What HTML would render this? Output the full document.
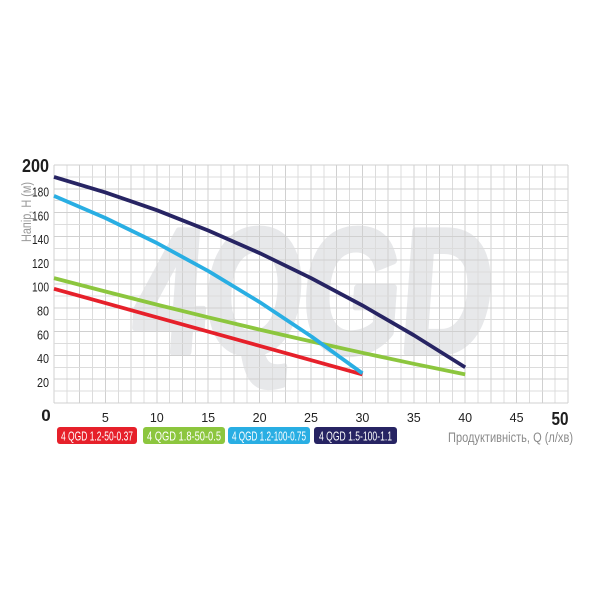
<!DOCTYPE html>
<html>
<head>
<meta charset="utf-8">
<style>
  html,body{margin:0;padding:0;background:#fff;}
  svg{display:block;}
  text{font-family:"Liberation Sans","DejaVu Sans",sans-serif;}
</style>
</head>
<body>
<svg width="600" height="600" viewBox="0 0 600 600" xmlns="http://www.w3.org/2000/svg">
  <rect width="600" height="600" fill="#fff"/>

  <!-- watermark -->
  <g transform="translate(131,352) skewX(-4)">
    <text x="0" y="0" font-size="176" font-weight="bold" fill="#e7e8ea" stroke="#e7e8ea" stroke-width="7" stroke-linejoin="round" textLength="358" lengthAdjust="spacingAndGlyphs">4QGD</text>
  </g>

  <!-- grid -->
  <g id="grid" stroke="#dcdcdc" stroke-width="1" shape-rendering="crispEdges"></g>

  <!-- curves -->
  <g fill="none" stroke-width="3.8" stroke-linejoin="round">
    <polyline stroke="#e6202a" points="54,288.8 362.4,374.4"/>
    <polyline stroke="#8cc63e" points="54,278.1 105.4,291.5 156.8,304.6 208.2,317.3 259.6,329.6 311,341.4 362.4,352.8 413.8,363.8 465.2,374.4"/>
    <polyline stroke="#29aee3" points="54,195.9 105.4,218.0 156.8,243.0 208.2,271.0 259.6,302.1 311,336.2 362.4,373.3"/>
    <polyline stroke="#272463" points="54,176.9 105.4,192.4 156.8,210.2 208.2,230.5 259.6,253.1 311,278.1 362.4,305.4 413.8,335.2 465.2,367.3"/>
  </g>

  <!-- y axis labels -->
  <text x="49" y="172" font-size="18" font-weight="bold" fill="#1e1e1e" text-anchor="end" textLength="27" lengthAdjust="spacingAndGlyphs">200</text>
  <g font-size="12.5" fill="#222" text-anchor="end">
    <text x="49" y="196.5" textLength="17" lengthAdjust="spacingAndGlyphs">180</text>
    <text x="49" y="220.3" textLength="17" lengthAdjust="spacingAndGlyphs">160</text>
    <text x="49" y="244.1" textLength="17" lengthAdjust="spacingAndGlyphs">140</text>
    <text x="49" y="267.9" textLength="17" lengthAdjust="spacingAndGlyphs">120</text>
    <text x="49" y="291.7" textLength="17" lengthAdjust="spacingAndGlyphs">100</text>
    <text x="49" y="315.5" textLength="12" lengthAdjust="spacingAndGlyphs">80</text>
    <text x="49" y="339.3" textLength="12" lengthAdjust="spacingAndGlyphs">60</text>
    <text x="49" y="363.1" textLength="12" lengthAdjust="spacingAndGlyphs">40</text>
    <text x="49" y="386.9" textLength="12" lengthAdjust="spacingAndGlyphs">20</text>
  </g>
  <text x="26" y="212" font-size="13.5" fill="#9a9a9a" text-anchor="middle" transform="rotate(-90 26 212)" dy="5" textLength="60" lengthAdjust="spacingAndGlyphs">Напір, H (м)</text>

  <!-- x axis labels -->
  <text x="46" y="421" font-size="17" font-weight="bold" fill="#1e1e1e" text-anchor="middle">0</text>
  <g font-size="12.5" fill="#222" text-anchor="middle">
    <text x="105.4" y="422">5</text>
    <text x="156.8" y="422">10</text>
    <text x="208.2" y="422">15</text>
    <text x="259.6" y="422">20</text>
    <text x="311" y="422">25</text>
    <text x="362.4" y="422">30</text>
    <text x="413.8" y="422">35</text>
    <text x="465.2" y="422">40</text>
    <text x="516.6" y="422">45</text>
  </g>
  <text x="560" y="425" font-size="18" font-weight="bold" fill="#1e1e1e" text-anchor="middle" textLength="17" lengthAdjust="spacingAndGlyphs">50</text>
  <text x="448" y="442" font-size="13.5" fill="#8a8a8a" textLength="125" lengthAdjust="spacingAndGlyphs">Продуктивність, Q (л/хв)</text>

  <!-- legend -->
  <rect x="57" y="427" width="80" height="17" rx="3" fill="#e6202a"/>
  <rect x="143" y="427" width="82" height="17" rx="3" fill="#8cc63e"/>
  <rect x="228" y="427" width="82" height="17" rx="3" fill="#29aee3"/>
  <rect x="314" y="427" width="83" height="17" rx="3" fill="#272463"/>
  <g font-size="13" fill="#fff">
    <text x="61" y="440.5" textLength="72" lengthAdjust="spacingAndGlyphs">4 QGD 1.2-50-0.37</text>
    <text x="147" y="440.5" textLength="74" lengthAdjust="spacingAndGlyphs">4 QGD 1.8-50-0.5</text>
    <text x="232" y="440.5" textLength="74" lengthAdjust="spacingAndGlyphs">4 QGD 1.2-100-0.75</text>
    <text x="319" y="440.5" textLength="73" lengthAdjust="spacingAndGlyphs">4 QGD 1.5-100-1.1</text>
  </g>

  <script>
    (function(){
      var g=document.getElementById('grid');
      var ns='http://www.w3.org/2000/svg';
      var x0=54,x1=568,y0=165,y1=403;
      for(var i=0;i<=40;i++){
        var x=x0+i*(x1-x0)/40;
        var l=document.createElementNS(ns,'line');
        l.setAttribute('x1',x);l.setAttribute('x2',x);
        l.setAttribute('y1',y0);l.setAttribute('y2',y1);
        if(i%2===0) l.setAttribute('stroke','#d0d0d0');
        g.appendChild(l);
      }
      for(var j=0;j<=20;j++){
        var y=y0+j*(y1-y0)/20;
        var l2=document.createElementNS(ns,'line');
        l2.setAttribute('x1',x0);l2.setAttribute('x2',x1);
        l2.setAttribute('y1',y);l2.setAttribute('y2',y);
        if(j%2===0) l2.setAttribute('stroke','#d0d0d0');
        g.appendChild(l2);
      }
      var svg=g.parentNode;
      svg.insertBefore(g, svg.children[2]);
    })();
  </script>
</svg>
</body>
</html>
